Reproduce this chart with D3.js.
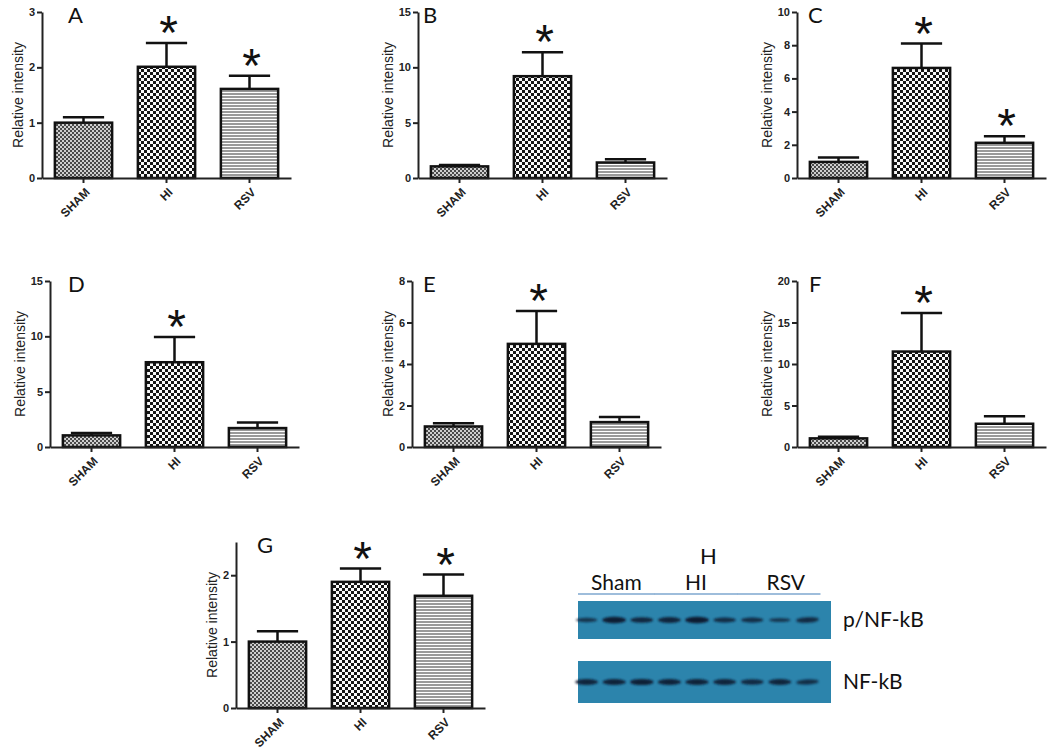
<!DOCTYPE html>
<html>
<head>
<meta charset="utf-8">
<script src="https://cdn.jsdelivr.net/npm/d3@7"></script>
<style>
  html, body { margin: 0; padding: 0; background: #fff; }
  svg { display: block; }
</style>
</head>
<body>
<svg id="chart" width="1050" height="755"></svg>
<script>
// ---------------- DATA ----------------
const categories = ["SHAM", "HI", "RSV"];

const meansA = [1.0, 2.01, 1.61];
const semA   = [0.10, 0.43, 0.24];
const starsA = [false, true, true];
const ticksA = [0, 1, 2, 3];

const meansB = [1.05, 9.2, 1.4];
const semB   = [0.13, 2.17, 0.30];
const starsB = [false, true, false];
const ticksB = [0, 5, 10, 15];

const meansC = [0.97, 6.63, 2.12];
const semC   = [0.26, 1.47, 0.40];
const starsC = [false, true, true];
const ticksC = [0, 2, 4, 6, 8, 10];

const meansD = [1.05, 7.66, 1.71];
const semD   = [0.21, 2.29, 0.51];
const starsD = [false, true, false];
const ticksD = [0, 5, 10, 15];

const meansE = [0.99, 4.97, 1.2];
const semE   = [0.16, 1.58, 0.24];
const starsE = [false, true, false];
const ticksE = [0, 2, 4, 6, 8];

const meansF = [1.04, 11.5, 2.8];
const semF   = [0.20, 4.65, 0.90];
const starsF = [false, true, false];
const ticksF = [0, 5, 10, 15, 20];

const meansG = [1.0, 1.9, 1.69];
const semG   = [0.155, 0.20, 0.32];
const starsG = [false, true, true];
const ticksG = [0, 1, 2];
const maxG   = 2.5;

// Western blot (panel H): lane groups and relative band strengths
const blotGroups  = ["Sham", "HI", "RSV"];
const blotRows    = ["p/NF-kB", "NF-kB"];
const pBand       = [0.45, 0.95, 0.75, 0.8, 1.0, 0.65, 0.6, 0.4, 0.7];
const nfBand      = [0.8, 0.85, 0.9, 0.85, 0.85, 0.8, 0.7, 0.8, 0.65];

// ---------------- LAYOUT ----------------
const panels = [
  {id:"A", means:meansA, sem:semA, stars:starsA, ticks:ticksA, max:3,  ax:42,  top:12,  zero:178, lx:26},
  {id:"B", means:meansB, sem:semB, stars:starsB, ticks:ticksB, max:15, ax:418, top:12,  zero:178, lx:5},
  {id:"C", means:meansC, sem:semC, stars:starsC, ticks:ticksC, max:10, ax:797, top:12,  zero:178, lx:11},
  {id:"D", means:meansD, sem:semD, stars:starsD, ticks:ticksD, max:15, ax:50,  top:281, zero:447, lx:18},
  {id:"E", means:meansE, sem:semE, stars:starsE, ticks:ticksE, max:8,  ax:412, top:281, zero:447, lx:11},
  {id:"F", means:meansF, sem:semF, stars:starsF, ticks:ticksF, max:20, ax:797, top:281, zero:447, lx:12},
  {id:"G", means:meansG, sem:semG, stars:starsG, ticks:ticksG, max:maxG, ax:236, top:542, zero:708, lx:21}
];
const plotW = 249;

const svg = d3.select("#chart");
const defs = svg.append("defs");

// patterns
const pS = defs.append("pattern").attr("id","patSHAM").attr("patternUnits","userSpaceOnUse")
  .attr("width",4).attr("height",4);
pS.append("rect").attr("width",4).attr("height",4).attr("fill","#cfcfcf");
pS.append("rect").attr("width",2).attr("height",2).attr("fill","#4a4a4a");
pS.append("rect").attr("x",2).attr("y",2).attr("width",2).attr("height",2).attr("fill","#4a4a4a");

const pH = defs.append("pattern").attr("id","patHI").attr("patternUnits","userSpaceOnUse")
  .attr("width",6).attr("height",6);
pH.append("rect").attr("width",6).attr("height",6).attr("fill","#fafafa");
pH.append("rect").attr("width",3).attr("height",3).attr("fill","#151515");
pH.append("rect").attr("x",3).attr("y",3).attr("width",3).attr("height",3).attr("fill","#151515");

const pR = defs.append("pattern").attr("id","patRSV").attr("patternUnits","userSpaceOnUse")
  .attr("width",3).attr("height",3);
pR.append("rect").attr("width",3).attr("height",3).attr("fill","#ffffff");
pR.append("rect").attr("width",3).attr("height",2).attr("fill","#9a9a9a");

const fills = {SHAM:"url(#patSHAM)", HI:"url(#patHI)", RSV:"url(#patRSV)"};

const fontAx = "'Liberation Sans', Arial, sans-serif";
const fontLbl = "Lato, 'Open Sans', sans-serif";

panels.forEach(p => {
  const g = svg.append("g");
  const y = d3.scaleLinear().domain([0, p.max]).range([p.zero, p.top]);
  const x = d3.scaleBand().domain(categories).range([p.ax, p.ax + plotW])
    .paddingInner(0.31).paddingOuter(0.155);

  // error bars
  categories.forEach((c, i) => {
    const cx = x(c) + x.bandwidth() / 2;
    const yt = y(p.means[i] + p.sem[i]);
    const cw = x.bandwidth() * 0.36;
    g.append("line").attr("x1", cx).attr("x2", cx).attr("y1", y(p.means[i])).attr("y2", yt)
      .attr("stroke", "#111").attr("stroke-width", 2.5);
    g.append("line").attr("x1", cx - cw).attr("x2", cx + cw).attr("y1", yt).attr("y2", yt)
      .attr("stroke", "#111").attr("stroke-width", 2.5);
    if (p.stars[i]) {
      g.append("text").attr("x", cx + 2).attr("y", yt + 6)
        .attr("text-anchor", "middle").attr("font-family", fontAx)
        .attr("font-size", 48).attr("fill", "#111").text("*");
    }
  });

  // bars
  g.selectAll("rect.bar").data(categories).enter().append("rect")
    .attr("class", "bar")
    .attr("x", c => x(c))
    .attr("width", x.bandwidth())
    .attr("y", (c, i) => y(p.means[i]))
    .attr("height", (c, i) => y(0) - y(p.means[i]))
    .attr("fill", c => fills[c])
    .attr("stroke", "#111").attr("stroke-width", 2.5);

  // y axis
  const ya = g.append("g").attr("transform", `translate(${p.ax},0)`)
    .call(d3.axisLeft(y).tickValues(p.ticks).tickSize(5).tickSizeOuter(0).tickPadding(2).tickFormat(d3.format("d")));
  ya.select(".domain").attr("stroke", "#222").attr("stroke-width", 2);
  ya.selectAll(".tick line").attr("stroke", "#222").attr("stroke-width", 2);
  ya.selectAll(".tick text").attr("font-family", fontAx).attr("font-size", 11)
    .attr("font-weight", "bold").attr("fill", "#222");

  // x axis
  const xa = g.append("g").attr("transform", `translate(0,${p.zero})`)
    .call(d3.axisBottom(x).tickSize(5).tickSizeOuter(0));
  xa.select(".domain").attr("stroke", "#222").attr("stroke-width", 2);
  xa.selectAll(".tick line").attr("stroke", "#222").attr("stroke-width", 2);
  xa.selectAll(".tick text")
    .attr("font-family", fontAx).attr("font-size", 12).attr("font-weight", "bold").attr("fill", "#222")
    .attr("text-anchor", "end").attr("dy", "0.35em").attr("y", 0)
    .attr("transform", "translate(4,12) rotate(-45)");

  // y title
  const digits = String(d3.max(p.ticks)).length;
  const tx = p.ax - 18 - 6 * digits;
  g.append("text")
    .attr("transform", `translate(${tx},${(p.top + p.zero) / 2}) rotate(-90)`)
    .attr("text-anchor", "middle").attr("dy", "0.35em")
    .attr("font-family", fontAx).attr("font-size", 14).attr("fill", "#222")
    .text("Relative intensity");

  // panel letter
  g.append("text").attr("x", p.ax + p.lx).attr("y", p.top + 11)
    .attr("font-family", fontLbl).attr("font-size", 22).attr("fill", "#111")
    .text(p.id);
});

// ---------------- PANEL H (western blot) ----------------
const hg = svg.append("g");
const blotX0 = 578, blotX1 = 831;
const lanes = d3.range(9);
const lx = d3.scaleBand().domain(lanes).range([570, 824]).padding(0.2);

hg.append("text").attr("x", 700).attr("y", 564)
  .attr("font-family", fontLbl).attr("font-size", 22).attr("fill", "#111").text("H");

const filt = defs.append("filter").attr("id", "blur").attr("x", "-20%").attr("y", "-100%").attr("width", "140%").attr("height", "300%");
filt.append("feGaussianBlur").attr("stdDeviation", 1.1);

const rowsY = [{top:601, h:38, vals:pBand}, {top:661, h:42, vals:nfBand}];
rowsY.forEach((r, ri) => {
  hg.append("rect").attr("x", blotX0).attr("y", r.top).attr("width", blotX1 - blotX0).attr("height", r.h)
    .attr("fill", "#2c84ac");
  lanes.forEach(i => {
    const v = r.vals[i];
    const cx = lx(i) + lx.bandwidth() / 2;
    const tilt = (i === 8) ? -3 : 0;
    hg.append("ellipse")
      .attr("cx", cx).attr("cy", r.top + r.h / 2)
      .attr("rx", 10 + 2 * v).attr("ry", 1.3 + 2.0 * v)
      .attr("transform", tilt ? `rotate(${tilt},${cx},${r.top + r.h / 2})` : null)
      .attr("fill", "#0e1c33").attr("opacity", 0.55 + 0.45 * v)
      .attr("filter", "url(#blur)");
  });
  hg.append("text").attr("x", 843).attr("y", r.top + r.h / 2).attr("dy", "0.35em")
    .attr("font-family", fontLbl).attr("font-size", 21).attr("fill", "#111")
    .text(blotRows[ri]);
});

// group labels with lines
const labelShift = [0, 0, 7];
blotGroups.forEach((gname, gi) => {
  const xs = lx(gi * 3), xe = lx(gi * 3 + 2) + lx.bandwidth();
  const x0 = Math.max(xs - 4, blotX0), x1 = xe + 2;
  hg.append("line").attr("x1", x0).attr("x2", x1).attr("y1", 594).attr("y2", 594)
    .attr("stroke", "#7ea7cf").attr("stroke-width", 1.5);
  hg.append("text").attr("x", (x0 + x1) / 2 + labelShift[gi]).attr("y", 590)
    .attr("text-anchor", "middle")
    .attr("font-family", fontLbl).attr("font-size", 21).attr("fill", "#111")
    .text(gname);
});
</script>
</body>
</html>
